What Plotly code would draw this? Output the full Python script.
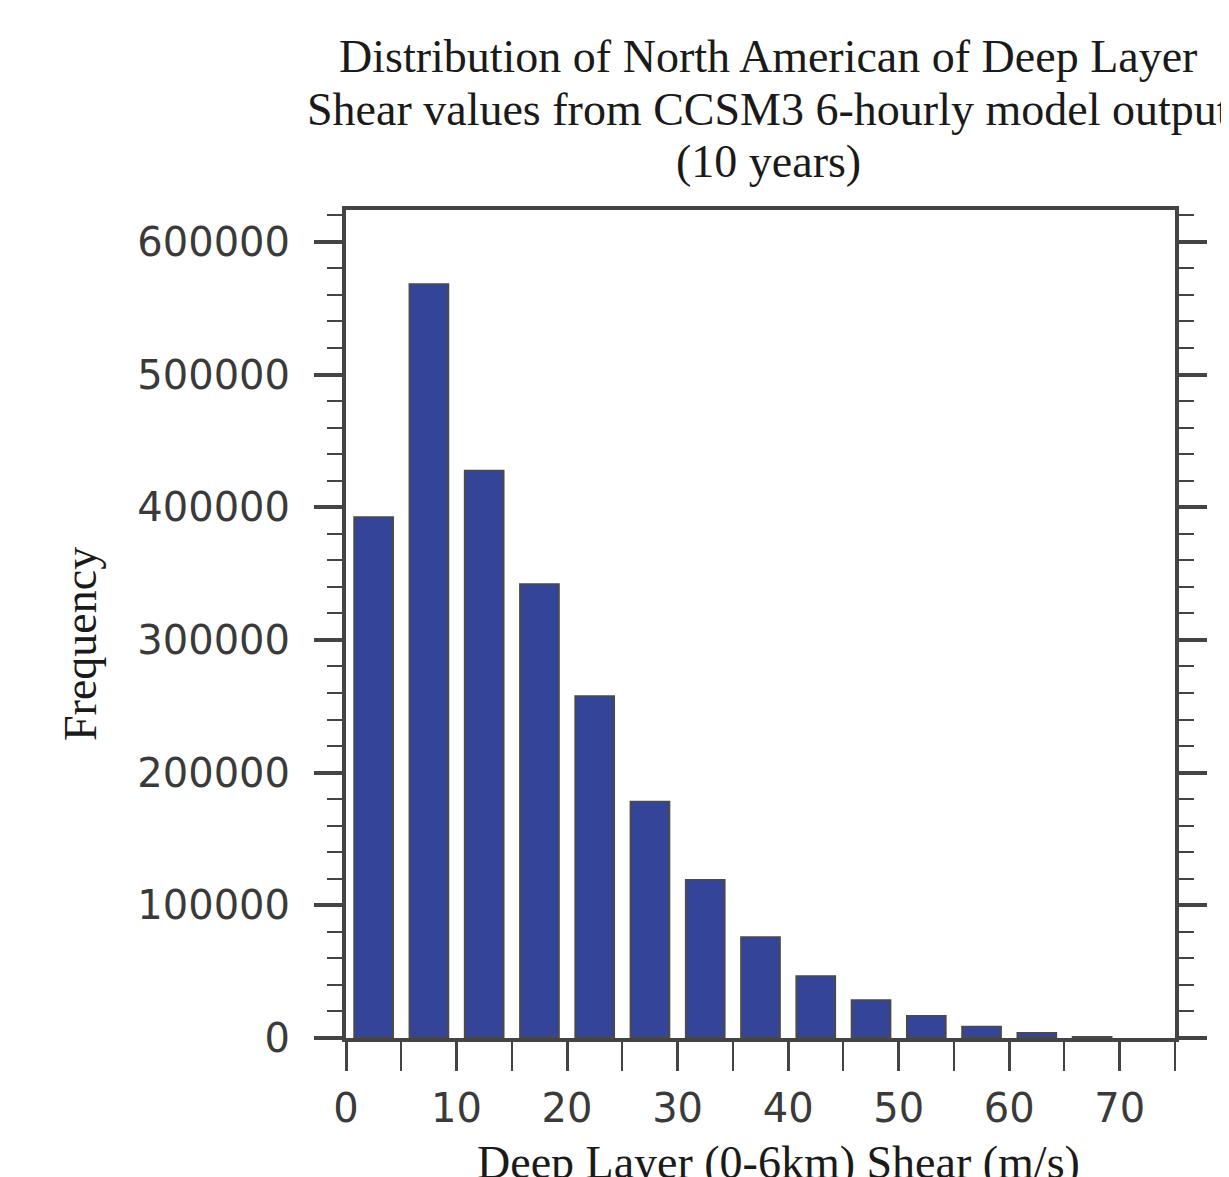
import plotly.graph_objects as go

bin_centers = [2.5, 7.5, 12.5, 17.5, 22.5, 27.5, 32.5, 37.5, 42.5, 47.5, 52.5, 57.5, 62.5, 67.5]
frequency = [392500, 568000, 427500, 342000, 257500, 178000, 119000, 76000, 46500, 28500, 16500, 8500, 3800, 800]

title_lines = ["Distribution of North American of Deep Layer",
               "Shear values from CCSM3 6-hourly model output",
               "(10 years)"]
x_title = "Deep Layer (0-6km) Shear (m/s)"
y_title = "Frequency"

serif = "Liberation Serif, Times New Roman, serif"
sans = "DejaVu Sans, sans-serif"

OFF = 8  # page body margin
W, H = 1229 - OFF, 1177 - OFF
L, R, T, B = 346 - OFF, 54, 210 - OFF, 139
PW, PH = W - L - R, H - T - B

def px(x_page):
    return (x_page - OFF - L) / PW

def py(y_page):
    return (H - B - (y_page - OFF)) / PH

fig = go.Figure()
fig.add_trace(go.Bar(
    x=bin_centers, y=frequency, width=3.5,
    marker=dict(color="#334499", line=dict(color="#4a4a4a", width=2)),
))

annots = []
title_tops = [29, 82, 134]
for line, top in zip(title_lines, title_tops):
    annots.append(dict(text=line, x=px(768), y=py(top), xref="paper", yref="paper",
                       xanchor="center", yanchor="top", showarrow=False,
                       font=dict(family=serif, size=46, color="#1a1a1a")))
annots.append(dict(text=x_title, x=px(778), y=py(1135), xref="paper", yref="paper",
                   xanchor="center", yanchor="top", showarrow=False,
                   font=dict(family=serif, size=46, color="#1a1a1a")))
annots.append(dict(text=y_title, x=px(80), y=py(644), xref="paper", yref="paper",
                   xanchor="center", yanchor="middle", showarrow=False, textangle=-90,
                   font=dict(family=serif, size=46, color="#1a1a1a")))

fig.update_layout(
    width=W, height=H,
    margin=dict(l=L, r=R, t=T, b=B, pad=0),
    paper_bgcolor="white", plot_bgcolor="white",
    showlegend=False,
    font=dict(family=sans, color="#444444"),
    annotations=annots,
)

fig.update_xaxes(
    range=[0, 75], tickmode="linear", tick0=0, dtick=10,
    ticks="outside", ticklen=29, tickwidth=3, tickcolor="#444444",
    showline=True, linewidth=4, linecolor="#444444", mirror=True,
    showgrid=False, zeroline=False,
    tickfont=dict(family=sans, size=40, color="#3a3a3a"),
    ticklabelstandoff=3,
    minor=dict(tickmode="linear", tick0=5, dtick=10, ticks="outside", ticklen=29,
               tickwidth=2, tickcolor="#444444", showgrid=False),
)
fig.update_yaxes(
    range=[0, 624000], tickmode="linear", tick0=0, dtick=100000, tickformat="d",
    ticks="outside", ticklen=28, tickwidth=4, tickcolor="#444444",
    showline=True, linewidth=4, linecolor="#444444", mirror="ticks",
    showgrid=False, zeroline=False,
    tickfont=dict(family=sans, size=40, color="#3a3a3a"),
    ticklabelstandoff=16,
    minor=dict(tickmode="linear", tick0=0, dtick=20000, ticks="outside", ticklen=15,
               tickwidth=2, tickcolor="#444444", showgrid=False),
)

fig.write_html("out.html")
